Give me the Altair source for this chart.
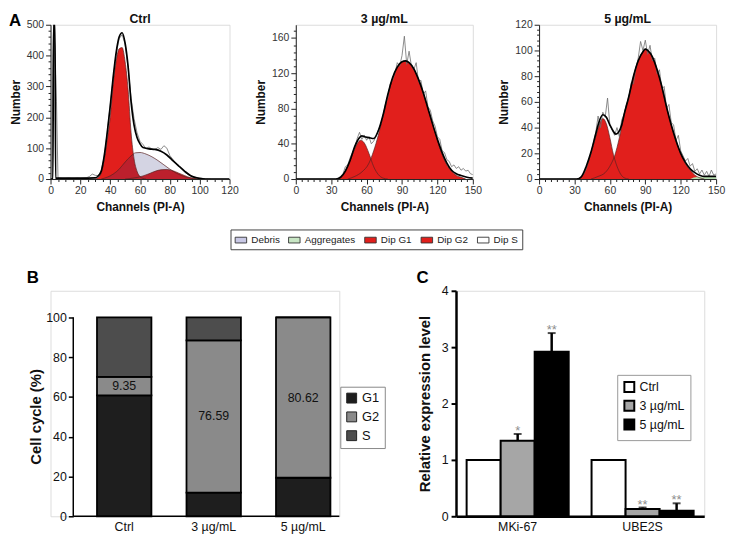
import altair as alt
import pandas as pd

FONT = "Liberation Sans"
RED = "#e11f1c"
EDGE = "#5a2323"
RAW = "#6e6e6e"

# ---------------- Panel A : DNA histograms ----------------
# Ctrl
ctrl_g1_ch = [30, 32, 34, 36, 38, 40, 42, 44, 46, 48, 50, 52, 54, 56, 58, 60, 62, 64]
ctrl_g1_n = [0, 5, 20, 63, 127, 200, 308, 383, 422, 426, 380, 290, 150, 65, 25, 8, 2, 0]
ctrl_g2_ch = [50, 54, 58, 62, 66, 70, 74, 78, 82, 86, 90, 94, 98, 100]
ctrl_g2_n = [0, 2, 5, 10, 17, 25, 30, 31, 27, 19, 11, 4, 1, 0]
ctrl_s_ch = [34, 38, 42, 46, 50, 54, 57, 60, 64, 68, 72, 76, 80, 84, 88, 92, 96, 100]
ctrl_s_n = [0, 6, 16, 32, 55, 75, 85, 86, 81, 72, 60, 46, 32, 20, 11, 5, 2, 0]
ctrl_fit_ch = [0, 1.6, 2, 3, 3.4, 6, 10, 20, 30, 32, 34, 36, 38, 40, 42, 44, 46, 48, 50, 52,
               54, 56, 58, 60, 62, 66, 70, 74, 78, 82, 86, 90, 94, 98, 102, 106, 120]
ctrl_fit_n = [0, 0, 500, 500, 3, 3, 3, 3, 4, 10, 25, 75, 150, 235, 330, 410, 460, 474, 440, 365,
              250, 175, 135, 114, 102, 98, 96, 90, 78, 60, 42, 25, 11, 4, 1, 0, 0]
ctrl_raw_ch = [0, 1, 2, 3, 4, 5, 6, 8, 10, 12, 14, 16, 18, 20, 22, 24, 26, 28, 30, 32, 34, 36, 38,
               40, 42, 44, 46, 48, 50, 52, 54, 56, 58, 60, 62, 64, 66, 68, 70, 72, 74, 76, 78, 80,
               82, 84, 86, 88, 90, 92, 94, 96, 98, 100, 102, 104, 106, 108, 120]
ctrl_raw_n = [0, 80, 500, 420, 250, 4, 3, 2, 2, 3, 2, 2, 3, 2, 3, 4, 8, 16, 12, 11, 28, 72, 150,
              238, 325, 405, 455, 468, 438, 360, 262, 196, 150, 122, 112, 98, 104, 97, 96, 102, 96, 108, 100, 76,
              64, 50, 44, 32, 22, 15, 10, 6, 4, 3, 2, 1, 1, 0, 0]

# 3 ug/mL
d3_g1_ch = [36, 40, 44, 48, 52, 55, 58, 62, 66, 70, 74, 78]
d3_g1_n = [0, 5, 15, 28, 40, 44, 41, 29, 14, 5, 1, 0]
d3_g2_ch = [44, 50, 56, 62, 66, 70, 74, 78, 82, 86, 90, 93, 96, 100, 104, 108, 112, 116, 120,
            124, 128, 132, 136, 140, 144]
d3_g2_n = [0, 3, 8, 18, 32, 50, 72, 95, 114, 127, 133, 134, 132, 125, 113, 98, 80, 62, 44,
           28, 16, 9, 4, 2, 0]
d3_fit_ch = [0, 34, 38, 42, 46, 50, 54, 56, 58, 62, 66, 70, 74, 78, 82, 86, 90, 93, 96, 100,
             104, 108, 112, 116, 120, 124, 128, 132, 136, 140, 145, 150]
d3_fit_n = [0, 0, 2, 9, 21, 37, 47, 49, 48, 47, 46, 55, 73, 96, 115, 127, 133, 134, 132, 125,
            113, 98, 80, 62, 45, 30, 18, 10, 6, 4, 2, 1]
d3_raw_ch = [0, 32, 34, 36, 38, 40, 42, 44, 46, 48, 50, 52, 54, 56, 58, 60, 62, 64, 66, 68, 70,
             72, 74, 76, 78, 80, 82, 84, 86, 88, 90, 92, 94, 96, 98, 100, 102, 104, 106, 108, 110,
             112, 114, 116, 118, 120, 122, 124, 126, 128, 130, 132, 134, 136, 138, 140, 142, 144,
             146, 148, 150]
d3_raw_n = [0, 0, 0, 1, 3, 6, 14, 16, 24, 30, 36, 46, 53, 45, 50, 44, 48, 40, 43, 48, 56,
            62, 72, 85, 92, 108, 112, 120, 132, 128, 140, 162, 130, 145, 128, 124, 132, 110, 112, 96, 100,
            82, 78, 66, 60, 48, 45, 32, 30, 22, 20, 14, 16, 12, 14, 10, 12, 9,
            10, 6, 5]

# 5 ug/mL
d5_g1_ch = [32, 36, 40, 44, 48, 51, 54, 57, 60, 63, 66, 69, 72, 76]
d5_g1_n = [0, 2, 9, 20, 33, 42, 47, 43, 32, 19, 10, 4, 1, 0]
d5_g2_ch = [44, 50, 56, 60, 64, 68, 72, 76, 80, 84, 88, 90, 92, 96, 100, 104, 108, 112, 116,
            120, 124, 128, 132, 136, 140]
d5_g2_n = [0, 2, 5, 10, 18, 32, 50, 64, 80, 92, 99, 101, 100, 95, 85, 72, 56, 42, 30,
           20, 12, 7, 3, 1, 0]
d5_agg_ch = [128, 134, 150]
d5_agg_n = [0, 1.5, 1.5]
d5_fit_ch = [0, 32, 36, 40, 44, 48, 51, 54, 57, 60, 63, 65, 67, 70, 72, 76, 80, 84, 88, 90, 92,
             96, 100, 104, 108, 112, 116, 120, 124, 128, 132, 136, 140, 150]
d5_fit_n = [0, 0, 2, 10, 21, 35, 45, 50, 48, 42, 37, 35, 36, 42, 50, 64, 80, 92, 99, 101, 100,
            95, 85, 72, 56, 42, 30, 20, 13, 8, 5, 3, 2, 2]
d5_raw_ch = d3_raw_ch
d5_raw_n = [0, 0, 0, 2, 4, 8, 15, 20, 28, 36, 49, 40, 52, 48, 63, 42, 38, 34, 40, 33, 46,
            50, 58, 62, 75, 74, 86, 94, 107, 100, 108, 97, 104, 92, 94, 82, 85, 70, 72, 55, 58,
            44, 42, 30, 34, 22, 18, 14, 16, 10, 12, 6, 8, 4, 7, 3, 6, 2,
            7, 3, 4]

components = ["Debris", "Aggregates", "Dip G1", "Dip G2", "Dip S"]
component_colors = ["#c9c9e6", "#c8e6c4", RED, RED, "#ffffff"]

# ---------------- Panel B : cell-cycle distribution ----------------
groups_b = ["Ctrl", "3 µg/mL", "5 µg/mL"]
g1_pct = [60.8, 11.9, 19.38]
g2_pct = [9.35, 76.59, 80.62]
s_pct = [29.85, 11.51, 0.0]
phases = ["G1", "G2", "S"]
phase_colors = ["#1e1e1e", "#8a8a8a", "#4d4d4d"]

# ---------------- Panel C : relative expression ----------------
genes = ["MKi-67", "UBE2S"]
doses = ["Ctrl", "3 µg/mL", "5 µg/mL"]
mki_mean = [1.0, 1.34, 2.92]
mki_err = [0.0, 0.12, 0.33]
mki_sig = ["", "*", "**"]
ube_mean = [1.0, 0.13, 0.10]
ube_err = [0.0, 0.025, 0.13]
ube_sig = ["", "**", "**"]
dose_colors = ["#ffffff", "#a6a6a6", "#000000"]


def frame(ch, n):
    return pd.DataFrame({"ch": ch, "n": n})


def letter(t, dx, dy):
    return alt.Chart(pd.DataFrame({"t": [t]})).mark_text(
        align="left", baseline="top", fontSize=17, fontWeight="bold", font=FONT, color="black"
    ).encode(text="t:N", x=alt.value(dx), y=alt.value(dy))


def panel_title(t, width):
    return alt.Chart(pd.DataFrame({"t": [t]})).mark_text(
        align="center", baseline="top", fontSize=12.5, fontWeight="bold", font=FONT, color="#111"
    ).encode(text="t:N", x=alt.value(width / 2), y=alt.value(-12))


def axis_minor(minor_vals, major, title, **kw):
    return alt.Axis(
        values=minor_vals,
        labelExpr=f"datum.value % {major} === 0 ? datum.label : ''",
        labelOverlap=False, labelFlush=False,
        tickSize={"condition": {"test": f"datum.value % {major} === 0", "value": 5}, "value": 2.5},
        title=title, titleFontSize=12, titleFontWeight="bold", titleFont=FONT, titleColor="#111",
        labelFontSize=10.5, labelFont=FONT, labelColor="#333", grid=False,
        domainColor="#222", tickColor="#222", **kw)


def hist_layers(xmax, xminor, xmajor, ymax, yminor, ymajor, areas, lines, raw, fit):
    X = alt.X("ch:Q", scale=alt.Scale(domain=[0, xmax], nice=False, zero=False),
              axis=axis_minor(list(range(0, xmax + 1, xminor)), xmajor, "Channels (PI-A)",
                              labelPadding=2, titlePadding=5))
    Y = alt.Y("n:Q", scale=alt.Scale(domain=[0, ymax], nice=False),
              axis=axis_minor(list(range(0, ymax + 1, yminor)), ymajor, "Number",
                              labelPadding=2, titlePadding=4))
    layers = []
    for df, color, op in areas:
        layers.append(alt.Chart(df).mark_area(color=color, opacity=op, clip=True,
                                              interpolate="monotone").encode(x=X, y=Y))
    for df in lines:
        layers.append(alt.Chart(df).mark_line(color=EDGE, strokeWidth=0.7, clip=True,
                                              interpolate="monotone").encode(x=X, y=Y))
    layers.append(alt.Chart(raw).mark_line(color=RAW, strokeWidth=0.8, clip=True).encode(x=X, y=Y))
    layers.append(alt.Chart(fit).mark_line(color="black", strokeWidth=1.7, clip=True,
                                           interpolate="monotone").encode(x=X, y=Y))
    return layers


# Ctrl panel
c_g1, c_g2, c_s = frame(ctrl_g1_ch, ctrl_g1_n), frame(ctrl_g2_ch, ctrl_g2_n), frame(ctrl_s_ch, ctrl_s_n)
a1_layers = hist_layers(
    120, 5, 20, 500, 20, 100,
    [(c_g1, RED, 1), (c_g2, RED, 1), (c_s, "#262673", 0.2)],
    [c_g1, c_g2, c_s],
    frame(ctrl_raw_ch, ctrl_raw_n), frame(ctrl_fit_ch, ctrl_fit_n))
a1 = alt.layer(*a1_layers, panel_title("Ctrl", 181), letter("A", -42, -12)).properties(width=181, height=156)

# 3 ug/mL panel
t_g1, t_g2 = frame(d3_g1_ch, d3_g1_n), frame(d3_g2_ch, d3_g2_n)
a2_layers = hist_layers(
    150, 5, 30, 175, 8, 40,
    [(t_g1, RED, 1), (t_g2, RED, 1)],
    [t_g1, t_g2],
    frame(d3_raw_ch, d3_raw_n), frame(d3_fit_ch, d3_fit_n))
legend_a = alt.Chart(pd.DataFrame({"component": components})).mark_square(
    opacity=0
).encode(
    x=alt.value(20), y=alt.value(20),
    fill=alt.Fill("component:N", scale=alt.Scale(domain=components, range=component_colors),
                  legend=alt.Legend(title=None, orient="none", legendX=-66, legendY=207,
                                    direction="horizontal", symbolType="M-1,-0.5H1V0.5H-1Z",
                                    symbolSize=135, symbolStrokeColor="#333", symbolStrokeWidth=0.9,
                                    symbolOpacity=1, labelFontSize=10, labelFont=FONT,
                                    labelColor="#222", strokeColor="#444", fillColor="white",
                                    padding=4, columnPadding=6, symbolOffset=0)),
    stroke=alt.value("#333"),
)
a2 = alt.layer(*a2_layers, legend_a, panel_title("3 µg/mL", 179)).properties(width=179, height=156)

# 5 ug/mL panel
f_g1, f_g2 = frame(d5_g1_ch, d5_g1_n), frame(d5_g2_ch, d5_g2_n)
a3_layers = hist_layers(
    150, 5, 30, 120, 4, 20,
    [(f_g1, RED, 1), (f_g2, RED, 1), (frame(d5_agg_ch, d5_agg_n), "#b5dcae", 1)],
    [f_g1, f_g2],
    frame(d5_raw_ch, d5_raw_n), frame(d5_fit_ch, d5_fit_n))
a3 = alt.layer(*a3_layers, panel_title("5 µg/mL", 179)).properties(width=179, height=156)

# ---------------- Panel B ----------------
rows = []
for i, g in enumerate(groups_b):
    for k, (ph, v) in enumerate(zip(phases, [g1_pct[i], g2_pct[i], s_pct[i]])):
        rows.append({"group": g, "phase": ph, "pct": v, "ord": k})
b_df = pd.DataFrame(rows)
b_lab = pd.DataFrame({"group": groups_b,
                      "pct": [a + b / 2 for a, b in zip(g1_pct, g2_pct)],
                      "txt": [f"{v:.2f}" for v in g2_pct]})
b_axis_df = pd.DataFrame({"pct": [0], "pct2": [100]})

B_OFF = 23   # panel B's y-axis sits 23 px right of panel A's y-axis
B_W = 269    # length of panel B's x-axis line
XB = alt.X("group:N", sort=groups_b,
           scale=alt.Scale(paddingInner=0.392, paddingOuter=0.265, range=[B_OFF, B_OFF + 284]),
           axis=alt.Axis(title=None, labelAngle=0, ticks=False, domain=False,
                         labelFontSize=12.5, labelFont=FONT, labelColor="#111", labelPadding=4))
y_b_axis = alt.Axis(values=[0, 20, 40, 60, 80, 100], domain=False, tickSize=5, tickWidth=1.5,
                    tickColor="black", labelFontSize=12.5, labelFont=FONT, labelColor="#111",
                    labelPadding=2, grid=False, title="Cell cycle (%)", titleFontSize=15,
                    titleFontWeight="bold", titleFont=FONT, titleColor="#111", titlePadding=2,
                    titleY=127, offset=-B_OFF)
y_b_scale = alt.Scale(domain=[0, 113.4], nice=False)

b_bars = alt.Chart(b_df).mark_bar(stroke="black", strokeWidth=1.8).encode(
    x=XB,
    y=alt.Y("pct:Q", stack="zero", scale=y_b_scale, axis=y_b_axis),
    order=alt.Order("ord:Q"),
    color=alt.Color("phase:N", scale=alt.Scale(domain=phases, range=phase_colors),
                    legend=alt.Legend(title=None, orient="none", legendX=B_OFF + 270, legendY=97,
                                      symbolType="square", symbolSize=100, symbolStrokeColor="#222",
                                      symbolStrokeWidth=1, symbolOpacity=1, labelFontSize=13,
                                      labelFont=FONT, labelColor="#111", strokeColor="#888",
                                      fillColor="white", padding=5, rowPadding=4)),
)
b_text = alt.Chart(b_lab).mark_text(fontSize=12.5, font=FONT, color="#111").encode(
    x=XB, y=alt.Y("pct:Q", scale=y_b_scale, axis=y_b_axis), text="txt:N")
b_yline = alt.Chart(b_axis_df).mark_rule(color="black", strokeWidth=1.5).encode(
    x=alt.value(B_OFF), y=alt.Y("pct:Q", scale=y_b_scale, axis=y_b_axis), y2="pct2:Q")
b_xline = alt.Chart(b_axis_df).mark_rule(color="black", strokeWidth=1.5).encode(
    x=alt.value(B_OFF), x2=alt.value(B_OFF + B_W), y=alt.Y("pct:Q", scale=y_b_scale, axis=y_b_axis))
b = alt.layer(b_bars, b_text, b_yline, b_xline, letter("B", B_OFF - 47, -21)).properties(
    width=B_OFF + B_W, height=228)

# ---------------- Panel C ----------------
c_rows = []
for gname, means, errs, sigs in [("MKi-67", mki_mean, mki_err, mki_sig), ("UBE2S", ube_mean, ube_err, ube_sig)]:
    for d, m, e, s in zip(doses, means, errs, sigs):
        c_rows.append({"gene": gname, "dose": d, "mean": m, "err": e, "top": m + e, "sig": s})
c_df = pd.DataFrame(c_rows)

XC = alt.X("gene:N", sort=genes, scale=alt.Scale(paddingInner=0.183, paddingOuter=0.085),
           axis=alt.Axis(title=None, labelAngle=0, ticks=False, domainColor="black", domainWidth=2.5,
                         labelFontSize=12.5, labelFont=FONT, labelColor="#111", labelPadding=4))
XO = alt.XOffset("dose:N", sort=doses, scale=alt.Scale(paddingInner=0, paddingOuter=0))
y_c_axis = alt.Axis(values=[0, 1, 2, 3, 4], tickSize=5, tickWidth=2, tickColor="black",
                    domainColor="black", domainWidth=2.5, labelFontSize=12.5, labelFont=FONT,
                    labelColor="#111", labelPadding=3, grid=False, title="Relative expression level",
                    titleFontSize=15, titleFontWeight="bold", titleFont=FONT, titleColor="#111",
                    titlePadding=9)
y_c_scale = alt.Scale(domain=[0, 4], nice=False)

c_bars = alt.Chart(c_df).mark_bar(stroke="black", strokeWidth=2).encode(
    x=XC, xOffset=XO,
    y=alt.Y("mean:Q", scale=y_c_scale, axis=y_c_axis),
    fill=alt.Fill("dose:N", sort=doses, scale=alt.Scale(domain=doses, range=dose_colors),
                  legend=alt.Legend(title=None, orient="none", legendX=163, legendY=85,
                                    symbolType="square", symbolSize=100, symbolStrokeColor="black",
                                    symbolStrokeWidth=2, symbolOpacity=1, labelFontSize=12.5,
                                    labelFont=FONT, labelColor="#111", strokeColor="#999",
                                    fillColor="white", padding=6, rowPadding=0)),
)
c_err = alt.Chart(c_df).transform_filter("datum.err > 0").mark_rule(color="black", strokeWidth=2.5).encode(
    x=XC, xOffset=XO, y=alt.Y("mean:Q", scale=y_c_scale, axis=y_c_axis), y2="top:Q")
c_cap = alt.Chart(c_df).transform_filter("datum.err > 0").mark_tick(
    color="black", size=8, thickness=2, orient="horizontal").encode(
    x=XC, xOffset=XO, y=alt.Y("top:Q", scale=y_c_scale, axis=y_c_axis))
c_sig = alt.Chart(c_df).mark_text(fontSize=13, font=FONT, color="#8c8c8c", baseline="alphabetic",
                                  dy=1).encode(
    x=XC, xOffset=XO, y=alt.Y("top:Q", scale=y_c_scale, axis=y_c_axis), text="sig:N")
c = alt.layer(c_bars, c_err, c_cap, c_sig, letter("C", -40, -21)).properties(width=251, height=228)

# ---------------- layout ----------------
row1 = alt.hconcat(a1, a2, a3, spacing=67, bounds="flush").resolve_scale(
    fill="independent", color="independent")
row3 = alt.hconcat(b, c, spacing=118, bounds="flush").resolve_scale(
    fill="independent", color="independent")
chart = alt.vconcat(row1, row3, spacing=18).resolve_scale(
    fill="independent", color="independent"
).properties(padding=0, background="white").configure_view(strokeWidth=0, stroke="transparent").configure(font=FONT)

chart.save("out.html", embed_options={"renderer": "svg", "actions": False})
